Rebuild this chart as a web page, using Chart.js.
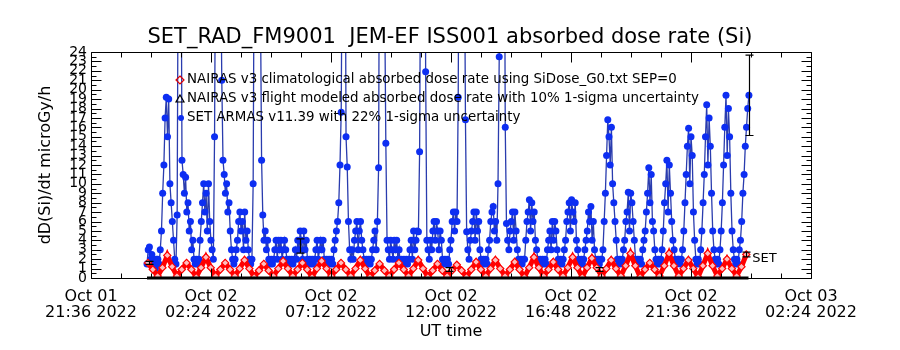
<!DOCTYPE html>
<html><head><meta charset="utf-8">
<script src="https://cdn.jsdelivr.net/npm/chart.js@4.4.1/dist/chart.umd.min.js"></script>
<style>html,body{margin:0;padding:0;background:#fff}#wrap{width:900px;height:350px}</style>
</head><body><div id="wrap"><canvas id="c" width="900" height="350"></canvas></div>
<script>
// ---------- texts ----------
const titleText = "SET_RAD_FM9001  JEM-EF ISS001 absorbed dose rate (Si)";
const yTitle = "dD(Si)/dt microGy/h";
const xTitle = "UT time";
const seriesLabels = [
  "NAIRAS v3 climatological absorbed dose rate using SiDose_G0.txt SEP=0",
  "NAIRAS v3 flight modeled absorbed dose rate with 10% 1-sigma uncertainty",
  "SET ARMAS v11.39 with 22% 1-sigma uncertainty"
];
const endLabel = "SET";

// ---------- axes (hours after Oct 01 21:36 UT) ----------
const xTickValues = [0, 4.8, 9.6, 14.4, 19.2, 24.0, 28.8];
const xTickLabels = [
  ["Oct 01", "21:36 2022"], ["Oct 02", "02:24 2022"], ["Oct 02", "07:12 2022"],
  ["Oct 02", "12:00 2022"], ["Oct 02", "16:48 2022"], ["Oct 02", "21:36 2022"],
  ["Oct 03", "02:24 2022"]
];
const yTickValues = [0,1,2,3,4,5,6,7,8,9,10,11,12,13,14,15,16,17,18,19,20,21,22,23,24];

// ---------- NAIRAS climatological (red diamonds), sampled every redStep hours ----------
const redStart = 2.28, redStep = 0.193;
const redValues = [
  1.6, 0.9, 0.2, 1.1,  2.4, 1.2, 0.2, 0.9,  1.6, 0.9, 0.1, 1.1,  2.2, 1.1, 0.2, 0.9,
  1.6, 0.9, 0.2, 1.0,  1.9, 1.0, 0.1, 0.8,  1.5, 0.8, 0.2, 1.0,  1.8, 1.0, 0.2, 0.9,
  1.6, 0.9, 0.1, 1.0,  1.8, 1.0, 0.2, 0.9,  1.6, 0.9, 0.2, 1.0,  1.9, 1.0, 0.1, 0.8,
  1.5, 0.8, 0.2, 0.9,  1.6, 0.9, 0.2, 1.0,  1.9, 1.0, 0.1, 0.8,  1.5, 0.8, 0.2, 0.8,
  1.4, 0.8, 0.1, 0.9,  1.7, 0.9, 0.2, 1.0,  1.9, 1.0, 0.2, 0.9,  1.7, 0.9, 0.1, 1.1,
  2.2, 1.1, 0.2, 0.9,  1.7, 0.9, 0.2, 1.1,  2.2, 1.1, 0.1, 1.1,  2.1, 1.1, 0.2, 1.0,
  1.9, 1.0, 0.2, 1.3,  2.6, 1.3, 0.1, 0.9,  1.6, 0.9, 0.2, 1.3,  2.6, 1.3, 0.2, 1.0,
  1.9, 1.0, 0.1, 1.3,  2.6, 1.3, 0.2, 1.0,  2.0, 1.0, 0.2, 1.2,  2.5
];

// ---------- NAIRAS flight modeled (black triangles, 10% error) ----------
const flightTimes = [2.30, 26.21];
const flightValues = [1.6, 2.5];
const flightErrPct = 10;
const flightZeroTimes = [2.24, 26.30];
const flightZeroValues = [0, 0];

// ---------- SET ARMAS (blue dots), sampled every blueStep hours ----------
const blueStart = 2.24, blueStep = 0.04825;
const blueValues = [
  1.5, 3, 3.3, 2, 2.5, 1.5, 2, 1, 2,
  2, 1.5, 3, 5, 9, 12, 17, 19.2, 15, 19, 10, 8, 6, 4, 2, 1.5,
  6.7, 40, 60, 45, 12.5, 11, 9, 10.7, 7, 8, 5, 6, 3, 4, 2, 1.5,
  2, 1.5, 2, 4, 6, 8, 10, 7, 9, 5, 10, 6, 4, 3, 2, 15,
  40, 70, 60, 50, 35, 21, 12.5, 11, 9, 10, 7, 8, 5, 3, 2, 1.5,
  2, 3, 4, 6, 7, 5, 6, 3, 7, 4, 5, 3, 2, 1.5, 2, 10,
  40, 70, 80, 70, 50, 30, 12.5, 6.7, 4, 5, 3, 4, 2, 1.5, 2, 1.5,
  2, 3, 4, 2, 4, 3, 4, 2, 3, 4, 3, 2, 1.5, 2, 1.5, 2,
  1.5, 2, 3, 2, 4, 3, 5, 4, 2, 5, 3, 4, 2, 1.5, 2, 1.5,
  2, 1.5, 2, 3, 4, 2, 3, 4, 3, 4, 2, 1.5, 2, 1.5, 2, 1.5,
  2, 1.5, 3, 4, 5, 6, 8, 12, 17.6, 40, 60, 50, 15, 11.8, 6, 3,
  2, 3, 2, 4, 5, 6, 3, 5, 6, 4, 3, 2, 1.5, 2, 1.5, 2,
  1.5, 2, 3, 4, 5, 3, 6, 11.7, 50, 70, 60, 45, 30, 14.3, 4, 3,
  2, 4, 3, 2, 4, 3, 4, 2, 3, 1.5, 2, 1.5, 2, 1.5, 2, 1.5,
  2, 3, 4, 2, 5, 3, 4, 5, 4.9, 13.4, 40, 70, 80, 60, 21.9, 4,
  3, 2, 4, 3, 5, 6, 4, 6, 5, 3, 5, 4, 2, 1.5, 2, 1.5,
  2, 1.5, 3, 4, 6, 7, 5, 7, 6, 19.2, 50, 80, 90, 70, 40, 16.8,
  4.9, 3, 2, 4, 5, 6, 7, 4, 7, 5, 6, 3, 2, 1.5, 2, 1.5,
  2, 1.5, 3, 4, 6, 7, 7.6, 5, 6, 4, 10, 23.5, 60, 80, 70, 50,
  16, 5.8, 4, 3, 5, 6, 7, 4, 7, 5, 3, 2, 1.5, 2, 1.5, 2,
  2, 4, 6, 7, 8.3, 5, 8, 6, 7, 4, 3, 2, 1.5, 2, 1.5, 2,
  1.5, 2, 1.5, 3, 4, 5, 3, 6, 4, 6, 5, 3, 2, 1.5, 2, 1.5,
  2, 3, 4, 6, 7, 8, 5, 8.3, 7, 6, 8, 4, 3, 2, 1.5, 2,
  1.5, 2, 3, 4, 5, 7, 6, 7.6, 4, 6, 3, 2, 1.5, 2, 1.5, 2,
  2, 3, 6, 9, 13, 16.8, 15, 12, 16, 10, 8, 6, 4, 2, 1.5, 2,
  1.5, 2, 3, 4, 6, 7, 9.1, 5, 9, 8, 6, 4, 2, 1.5, 2, 1.5,
  2, 1.5, 3, 4, 5, 7, 9, 11.7, 8, 11, 6, 5, 3, 2, 1.5, 2,
  1.5, 2, 3, 5, 8, 10, 12.5, 7, 12, 9, 6, 4, 3, 2, 1.5, 2,
  2, 1.5, 2, 3, 5, 8, 11, 14, 15.9, 10, 15, 13, 7, 4, 2, 1.5,
  2, 1.5, 3, 5, 8, 11, 15, 18.4, 12, 17, 14, 9, 5, 3, 2, 1.5,
  2, 1.5, 3, 5, 8, 12, 16, 19.4, 13, 18, 15, 9, 5, 3, 2, 1.5,
  2, 1.5, 3, 4, 6, 9, 11, 14, 16, 18, 19.4
];
// SET ARMAS points shown with 22% 1-sigma error bars
const setErrTimes = [8.36, 14.32, 20.32, 26.32];
const setErrValues = [3.4, 0.9, 0.9, 19.4];
const setErrPct = 22;

// ---------- build chart ----------
const FONT = "DejaVu Sans";
const redData = redValues.map((v, i) => ({x: redStart + i * redStep, y: v}));
const blueData = blueValues.map((v, i) => ({x: blueStart + i * blueStep, y: v}));
const flightData = flightValues.map((v, i) => ({x: flightTimes[i], y: v}));
const zeroData = flightZeroValues.map((v, i) => ({x: flightZeroTimes[i], y: v}));

const frameTicks = {
  id: 'frameTicks',
  afterDatasetsDraw(chart) {
    const {ctx, chartArea: a, scales: {x, y}} = chart;
    const L = Math.round(a.left) + 0.5, R = Math.round(a.right) + 0.5;
    const T = Math.round(a.top) + 0.5, B = Math.round(a.bottom) + 0.5;
    ctx.save();
    ctx.strokeStyle = '#000'; ctx.lineWidth = 1;
    ctx.beginPath();
    ctx.moveTo(L, T); ctx.lineTo(R, T); ctx.lineTo(R, B); ctx.lineTo(L, B); ctx.closePath();
    for (let v = 0; v <= 24; v += 0.5) {
      const py = Math.round(y.getPixelForValue(v)) + 0.5;
      const len = (v % 1 === 0) ? 10 : 5;
      ctx.moveTo(L, py); ctx.lineTo(L + len, py);
      ctx.moveTo(R, py); ctx.lineTo(R - len, py);
    }
    for (let k = 0; k <= 24; k++) {
      const px = Math.round(x.getPixelForValue(k * 1.2)) + 0.5;
      const len = (k % 4 === 0) ? 10 : 5;
      ctx.moveTo(px, B); ctx.lineTo(px, B - len);
      ctx.moveTo(px, T); ctx.lineTo(px, T + len);
    }
    ctx.stroke();

    const bar = (t, v, pct, cap) => {
      const px = Math.round(x.getPixelForValue(t)) + 0.5;
      const lo = y.getPixelForValue(v * (1 - pct / 100));
      const hi = y.getPixelForValue(v * (1 + pct / 100));
      ctx.beginPath();
      ctx.moveTo(px, lo); ctx.lineTo(px, hi);
      ctx.moveTo(px - cap, lo); ctx.lineTo(px + cap, lo);
      ctx.moveTo(px - cap, hi); ctx.lineTo(px + cap, hi);
      ctx.stroke();
    };
    ctx.lineWidth = 1.2;
    setErrTimes.forEach((t, i) => bar(t, setErrValues[i], setErrPct, 4));
    flightTimes.forEach((t, i) => bar(t, flightValues[i], flightErrPct, 4));

    const last = redData[redData.length - 1];
    ctx.fillStyle = '#000';
    ctx.font = '13px "' + FONT + '"';
    ctx.textBaseline = 'middle'; ctx.textAlign = 'left';
    ctx.fillText(endLabel, x.getPixelForValue(last.x) + 6, y.getPixelForValue(last.y) + 4);

    const lx = a.left + 89, tx = a.left + 96;
    const rows = [a.top + 28, a.top + 47, a.top + 66];
    ctx.font = '13.4px "' + FONT + '"';
    seriesLabels.forEach((s, i) => ctx.fillText(s, tx, rows[i]));
    ctx.strokeStyle = '#e00000'; ctx.lineWidth = 1.2;
    ctx.beginPath();
    ctx.moveTo(lx, rows[0] - 4); ctx.lineTo(lx + 4, rows[0]); ctx.lineTo(lx, rows[0] + 4); ctx.lineTo(lx - 4, rows[0]); ctx.closePath();
    ctx.stroke();
    ctx.strokeStyle = '#000';
    ctx.beginPath();
    ctx.moveTo(lx, rows[1] - 4); ctx.lineTo(lx + 4, rows[1] + 3); ctx.lineTo(lx - 4, rows[1] + 3); ctx.closePath();
    ctx.stroke();
    ctx.fillStyle = '#0d2ef2';
    ctx.beginPath(); ctx.arc(lx + 1, rows[2], 3, 0, Math.PI * 2); ctx.fill();
    ctx.restore();
  }
};

new Chart(document.getElementById('c'), {
  type: 'scatter',
  data: {
    datasets: [
      {label: 'zero', data: zeroData, showLine: true, borderColor: '#000', borderWidth: 3, pointRadius: 0, clip: false},
      {label: seriesLabels[0], data: redData, showLine: true, borderColor: '#ff0000', borderWidth: 5,
       pointStyle: 'rectRot', pointRadius: 3.6, pointBorderColor: '#ff0000', pointBackgroundColor: 'rgba(255,210,210,0.9)', pointBorderWidth: 1.2},
      {label: seriesLabels[1], data: flightData, showLine: false, pointStyle: 'triangle', pointRadius: 3,
       pointBorderColor: '#000', pointBackgroundColor: 'rgba(0,0,0,0)', pointBorderWidth: 1},
      {label: seriesLabels[2], data: blueData, showLine: true, borderColor: '#2a3cae', borderWidth: 1.3,
       pointStyle: 'circle', pointRadius: 3.5, pointBackgroundColor: '#0d2ef2', pointBorderColor: '#0d2ef2', pointBorderWidth: 0, clip: 0}
    ]
  },
  options: {
    responsive: false, animation: false, devicePixelRatio: 1,
    layout: {padding: 0},
    plugins: {
      legend: {display: false}, tooltip: {enabled: false},
      title: {display: true, text: titleText, color: '#000', font: {family: FONT, size: 21, weight: 'normal'},
              padding: {top: 25, bottom: 1.8}}
    },
    scales: {
      x: {
        type: 'linear', min: 0, max: 28.8,
        afterBuildTicks: s => { s.ticks = xTickValues.map(v => ({value: v})); },
        afterFit: s => { s.height = 72; },
        grid: {display: false, drawTicks: false}, border: {display: false},
        ticks: {autoSkip: false, maxRotation: 0, padding: 10, color: '#000',
                font: {family: FONT, size: 16, lineHeight: 1.05},
                callback: (v, i) => xTickLabels[i]},
        title: {display: true, text: xTitle, color: '#000', font: {family: FONT, size: 16}, padding: {top: 0, bottom: 9}}
      },
      y: {
        min: 0, max: 24,
        afterBuildTicks: s => { s.ticks = yTickValues.map(v => ({value: v})); },
        afterFit: s => { s.width = 91; },
        grid: {display: false, drawTicks: false}, border: {display: false},
        ticks: {autoSkip: false, padding: 4, color: '#000', font: {family: FONT, size: 14}},
        title: {display: true, text: yTitle, color: '#000', font: {family: FONT, size: 16}, padding: {top: 36, bottom: 0}}
      },
      yRight: {
        type: 'linear', position: 'right', display: true, min: 0, max: 24,
        afterFit: s => { s.width = 89; },
        grid: {display: false, drawTicks: false}, border: {display: false},
        ticks: {display: false}
      }
    }
  },
  plugins: [frameTicks]
});
</script></body></html>
